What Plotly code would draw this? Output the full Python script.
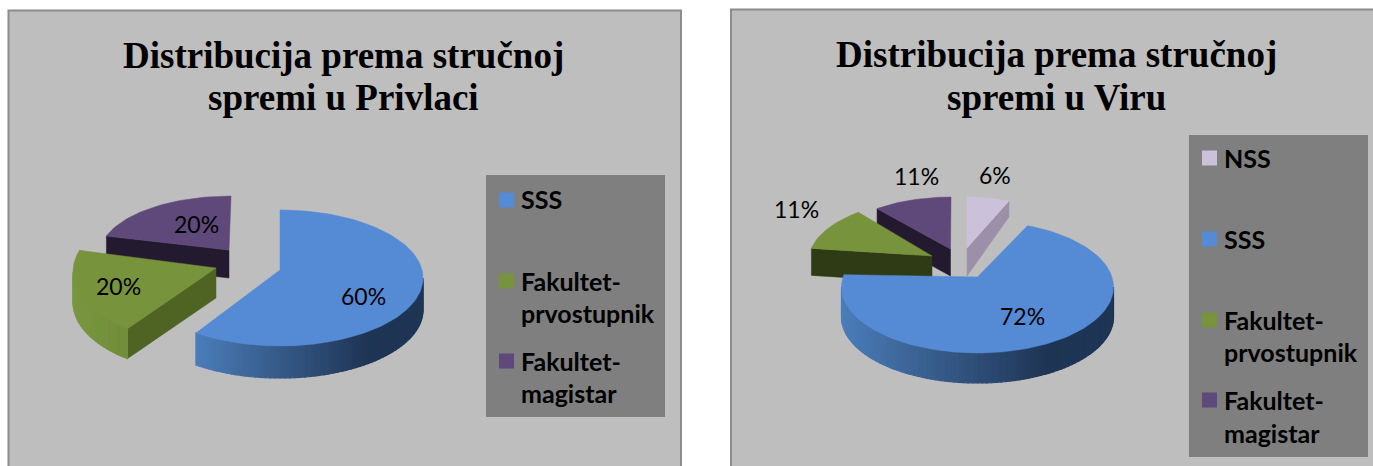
import math
import plotly.graph_objects as go

# ---- data ----
categories_privlaka = ["SSS", "Fakultet-<br>prvostupnik", "Fakultet-<br>magistar"]
values_privlaka = [60, 20, 20]
categories_vir = ["NSS", "SSS", "Fakultet-<br>prvostupnik", "Fakultet-<br>magistar"]
values_vir = [6, 72, 11, 11]
title_privlaka = "Distribucija prema stručnoj<br>spremi u Privlaci"
title_vir = "Distribucija prema stručnoj<br>spremi u Viru"

# ---- style & layout ----
PANEL = "#bebebe"; LEGEND = "#7f7f7f"; BORDER = "#8c8c8c"
STYLE = {
    "SSS": dict(top="#558bd4", rim=("#4b7db9", "#1f3555"), cut=None),
    "NSS": dict(top="#ccc1da", rim=None, cut="#9c90a8"),
    "Fakultet-<br>prvostupnik": dict(top="#77933c", rim=("#7a9640", "#5c752c"), cut="#4f6423"),
    "Fakultet-<br>magistar": dict(top="#5f497a", rim=None, cut="#241a30"),
}
# geometry per slice: ellipse centre, radii, wedge apex, depth (apex/outer), cut face side
GEOM_P = {
    "SSS": dict(c=(280, 278), r=(143, 68), apex=(280, 270), d=32),
    "Fakultet-<br>prvostupnik": dict(c=(205, 272), r=(132, 70), apex=(216, 268), d=30, cutside=0),
    "Fakultet-<br>magistar": dict(c=(231, 254), r=(131, 58), apex=(229, 250), d=28, cutside=0),
}
GEOM_V = {
    "NSS": dict(c=(967, 254), r=(114, 57), apex=(967, 248), d=28, dout=16, cutside=1),
    "SSS": dict(c=(977.5, 287), r=(136, 66), apex=(977.5, 277), d=30),
    "Fakultet-<br>prvostupnik": dict(c=(945, 260), r=(136, 62), apex=(932, 256), d=27, cutside=0, cutcolor="#2f3b14"),
    "Fakultet-<br>magistar": dict(c=(951, 248), r=(116, 51), apex=(950.5, 249), d=27, cutside=0),
}
FONT_SANS = "Lato, Carlito, Calibri, sans-serif"
FONT_SERIF = "Liberation Serif, Times New Roman, serif"

fig = go.Figure()


def poly(xs, ys, color, lw=0.5):
    fig.add_trace(go.Scatter(x=xs, y=ys, mode="lines", fill="toself", fillcolor=color,
                             line=dict(width=lw, color=color), hoverinfo="skip", showlegend=False))


def lerp(c0, c1, t):
    t = max(0, min(1, t))
    a = [int(c0[i:i + 2], 16) for i in (1, 3, 5)]
    b = [int(c1[i:i + 2], 16) for i in (1, 3, 5)]
    return "#%02x%02x%02x" % tuple(round(a[i] + (b[i] - a[i]) * t) for i in range(3))


def pt(g, deg):
    a = math.radians(deg)
    return g["c"][0] + g["r"][0] * math.sin(a), g["c"][1] - g["r"][1] * math.cos(a)


def arc(g, a0, a1, n=None):
    n = n or max(4, int(abs(a1 - a0) / 2))
    return [pt(g, a0 + (a1 - a0) * i / n) for i in range(n + 1)]


def slice3d(cat, g, a0, a1):
    st = STYLE[cat]
    # cut face
    if "cutside" in g and st["cut"]:
        ang = a0 if g["cutside"] == 0 else a1
        ox, oy = pt(g, ang)
        ax, ay = g["apex"]
        d = g["d"]; dout = g.get("dout", d)
        poly([ax, ox, ox, ax, ax], [ay, oy, oy + dout, ay + d, ay], g.get("cutcolor", st["cut"]))
    # outer rim (front half only)
    lo, hi = max(a0, 90), min(a1, 270)
    if st["rim"] and hi > lo:
        left, right = pt(g, 270)[0] if a1 >= 270 else pt(g, a1)[0], pt(g, 90)[0]
        step = 2
        a = lo
        while a < hi:
            b = min(a + step, hi)
            (x0, y0), (x1, y1) = pt(g, a), pt(g, b)
            t = (right - 0.25 * (right - left) - (x0 + x1) / 2) / (0.75 * (right - left))
            poly([x0, x1, x1, x0, x0], [y0, y1, y1 + g["d"], y0 + g["d"], y0],
                 lerp(st["rim"][1], st["rim"][0], t), lw=1.2)
            a = b
    # top face
    pts = [g["apex"]] + arc(g, a0, a1) + [g["apex"]]
    poly([p[0] for p in pts], [p[1] for p in pts], st["top"])


def pie3d(cats, vals, geom, order):
    total = sum(vals)
    ang = {}
    cur = 0
    for c, v in zip(cats, vals):
        ang[c] = (cur, cur + 360 * v / total)
        cur += 360 * v / total
    for c in order:
        slice3d(c, geom[c], *ang[c])


def text(x, y, s, size, font=FONT_SANS, color="#000000", xanchor="center", bold=False):
    fig.add_annotation(x=x, y=y, xref="x", yref="y", text=f"<b>{s}</b>" if bold else s,
                       showarrow=False, xanchor=xanchor, yanchor="middle",
                       font=dict(size=size, family=font, color=color))


def legend(cats, xs, ys, xt, lines):
    for c, y in zip(cats, ys):
        fig.add_trace(go.Scatter(x=[xs], y=[y], mode="markers", hoverinfo="skip", showlegend=False,
                                 marker=dict(symbol="square", size=15, color=STYLE[c]["top"])))
    for s, y in lines:
        text(xt, y, s, 25, xanchor="left", bold=True)


shapes = [
    dict(type="rect", x0=8.5, x1=681, y0=10.5, y1=480, fillcolor=PANEL, line=dict(color=BORDER, width=2), layer="below"),
    dict(type="rect", x0=731, x1=1390, y0=9.5, y1=480, fillcolor=PANEL, line=dict(color=BORDER, width=2), layer="below"),
    dict(type="rect", x0=486, x1=665, y0=175, y1=417, fillcolor=LEGEND, line=dict(width=0), layer="below"),
    dict(type="rect", x0=1189, x1=1368, y0=135, y1=457, fillcolor=LEGEND, line=dict(width=0), layer="below"),
]

pie3d(categories_privlaka, values_privlaka, GEOM_P, [categories_privlaka[2], categories_privlaka[1], categories_privlaka[0]])
pie3d(categories_vir, values_vir, GEOM_V, [categories_vir[3], categories_vir[0], categories_vir[2], categories_vir[1]])

# titles
for i, line in enumerate(title_privlaka.split("<br>")):
    text(343.5, [55, 97][i], line, 37, FONT_SERIF, bold=True)
for i, line in enumerate(title_vir.split("<br>")):
    text(1056.5, [54, 97][i], line, 37, FONT_SERIF, bold=True)

# data labels
for v, (x, y) in zip(values_privlaka, [(363, 296), (118, 286), (196, 224)]):
    text(x, y, f"{v}%", 23)
for v, (x, y) in zip(values_vir, [(995, 175), (1022, 316), (796, 209), (916, 176)]):
    text(x, y, f"{v}%", 23)

# legends
legend(categories_privlaka, 506.5, [200, 281, 361], 519,
       [("SSS", 199), ("Fakultet-", 281), ("prvostupnik", 313), ("Fakultet-", 361), ("magistar", 393)])
legend(categories_vir, 1209.5, [158, 239, 320, 400], 1222,
       [("NSS", 158), ("SSS", 239), ("Fakultet-", 320), ("prvostupnik", 352), ("Fakultet-", 400), ("magistar", 433)])

fig.update_layout(
    width=1373, height=466, margin=dict(l=0, r=0, t=0, b=0),
    paper_bgcolor="#ffffff", plot_bgcolor="#ffffff", shapes=shapes, showlegend=False,
    xaxis=dict(range=[0, 1373], visible=False, fixedrange=True),
    yaxis=dict(range=[466, 0], visible=False, fixedrange=True),
)
fig.write_html("out.html", post_script="document.body.style.margin='0';", config={"displayModeBar": False})
